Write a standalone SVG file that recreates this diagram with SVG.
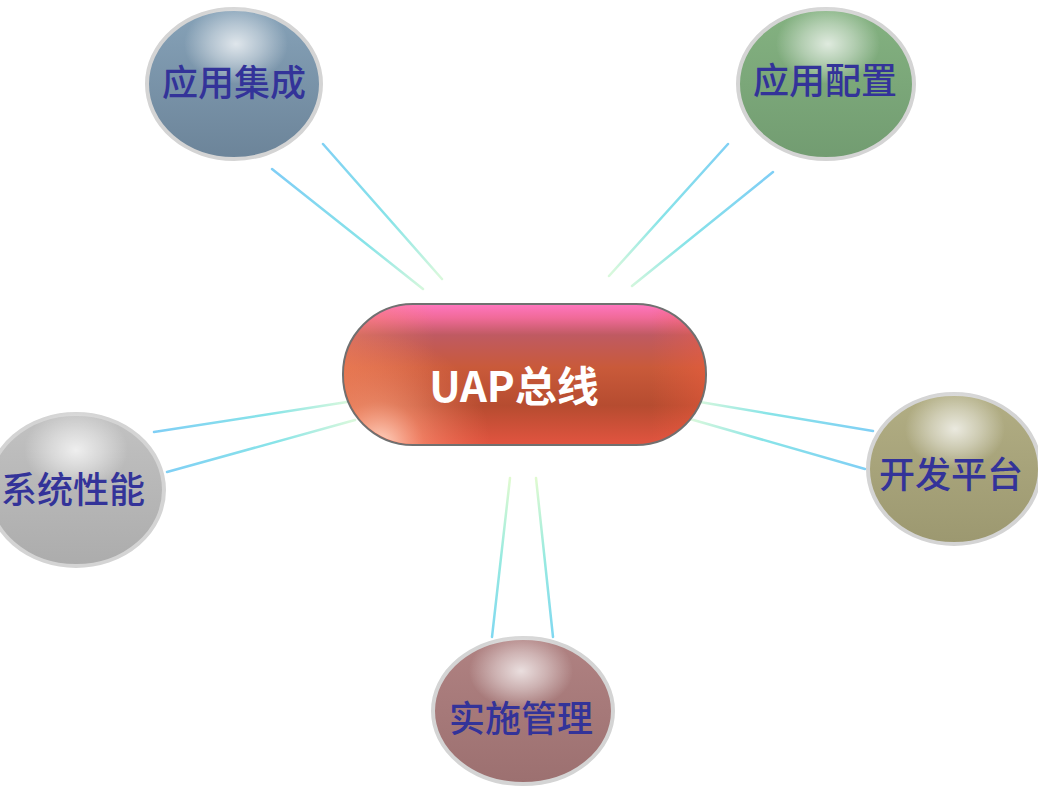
<svg xmlns="http://www.w3.org/2000/svg" width="1038" height="787" viewBox="0 0 1038 787">
<style>
.lbl{font-family:"Liberation Serif","Noto Sans CJK SC",serif;font-size:36px;font-weight:500;fill:#333399;text-anchor:middle;dominant-baseline:central}
.ball{stroke:#d4d4d4;stroke-width:4}
.con{fill:none;stroke-width:2.5;stroke-linecap:round}
.hl{fill:url(#hl)}
</style>
<defs>
<radialGradient id="hl" cx="0.5" cy="0.5" r="0.5">
<stop offset="0" stop-color="#ffffff" stop-opacity="0.75"/>
<stop offset="0.5" stop-color="#ffffff" stop-opacity="0.4"/>
<stop offset="1" stop-color="#ffffff" stop-opacity="0"/>
</radialGradient>
<linearGradient id="gBlue" x1="0" y1="0" x2="0" y2="1"><stop offset="0" stop-color="#86a2b8"/><stop offset="1" stop-color="#6c8499"/></linearGradient>
<linearGradient id="gGreen" x1="0" y1="0" x2="0" y2="1"><stop offset="0" stop-color="#84b281"/><stop offset="1" stop-color="#729c71"/></linearGradient>
<linearGradient id="gGray" x1="0" y1="0" x2="0" y2="1"><stop offset="0" stop-color="#c2c2c2"/><stop offset="1" stop-color="#acacac"/></linearGradient>
<linearGradient id="gOlive" x1="0" y1="0" x2="0" y2="1"><stop offset="0" stop-color="#b2ae84"/><stop offset="1" stop-color="#9c9870"/></linearGradient>
<linearGradient id="gMauve" x1="0" y1="0" x2="0" y2="1"><stop offset="0" stop-color="#b08282"/><stop offset="1" stop-color="#9c7070"/></linearGradient>
<linearGradient id="pillV" x1="0" y1="0" x2="0" y2="1">
<stop offset="0" stop-color="#ff76c0"/>
<stop offset="0.1" stop-color="#f06a98"/>
<stop offset="0.22" stop-color="#bf5a62"/>
<stop offset="0.45" stop-color="#c95a3a"/>
<stop offset="0.72" stop-color="#b64c30"/>
<stop offset="1" stop-color="#e25440"/>
</linearGradient>
<linearGradient id="pillH" x1="0" y1="0" x2="1" y2="0">
<stop offset="0" stop-color="#ff9060" stop-opacity="0.45"/>
<stop offset="0.25" stop-color="#ff9060" stop-opacity="0"/>
<stop offset="0.85" stop-color="#ff6040" stop-opacity="0"/>
<stop offset="1" stop-color="#ff6040" stop-opacity="0.35"/>
</linearGradient>
<radialGradient id="pillGlow" cx="380" cy="445" r="110" gradientUnits="userSpaceOnUse">
<stop offset="0" stop-color="#ffe0d0" stop-opacity="0.95"/>
<stop offset="0.4" stop-color="#ffa080" stop-opacity="0.5"/>
<stop offset="1" stop-color="#ff8060" stop-opacity="0"/>
</radialGradient>
<linearGradient id="c1" gradientUnits="userSpaceOnUse" x1="297" y1="156" x2="432" y2="284"><stop offset="0" stop-color="#80cff5"/><stop offset="0.6" stop-color="#88e4e8"/><stop offset="1" stop-color="#d8f8dc"/></linearGradient>
<linearGradient id="c2" gradientUnits="userSpaceOnUse" x1="750" y1="158" x2="620" y2="281"><stop offset="0" stop-color="#80cff5"/><stop offset="0.6" stop-color="#88e4e8"/><stop offset="1" stop-color="#d8f8dc"/></linearGradient>
<linearGradient id="c3" gradientUnits="userSpaceOnUse" x1="160" y1="452" x2="350" y2="411"><stop offset="0" stop-color="#80cff5"/><stop offset="0.6" stop-color="#88e4e8"/><stop offset="1" stop-color="#d8f8dc"/></linearGradient>
<linearGradient id="c4" gradientUnits="userSpaceOnUse" x1="870" y1="450" x2="695" y2="410"><stop offset="0" stop-color="#80cff5"/><stop offset="0.6" stop-color="#88e4e8"/><stop offset="1" stop-color="#d8f8dc"/></linearGradient>
<linearGradient id="c5" gradientUnits="userSpaceOnUse" x1="522" y1="637" x2="522" y2="478"><stop offset="0" stop-color="#80d8f0"/><stop offset="0.5" stop-color="#98eae0"/><stop offset="1" stop-color="#e0fad0"/></linearGradient>
</defs>
<g id="connectors">
<path class="con" stroke="url(#c1)" d="M272,169 L423,289"/>
<path class="con" stroke="url(#c1)" d="M323,144 L442,279"/>
<path class="con" stroke="url(#c2)" d="M728,144 L609,276"/>
<path class="con" stroke="url(#c2)" d="M773,172 L632,286"/>
<path class="con" stroke="url(#c3)" d="M154,432 L347,402"/>
<path class="con" stroke="url(#c3)" d="M167,472 L355,420"/>
<path class="con" stroke="url(#c4)" d="M700,402 L873,431"/>
<path class="con" stroke="url(#c4)" d="M690,419 L865,469"/>
<path class="con" stroke="url(#c5)" d="M510,478 L492,637"/>
<path class="con" stroke="url(#c5)" d="M536,478 L553,637"/>
</g>
<g id="center">
<rect x="343" y="304" width="363" height="141" rx="70" ry="70" fill="url(#pillV)" stroke="#707070" stroke-width="2"/>
<rect x="344" y="305" width="361" height="139" rx="69" ry="69" fill="url(#pillH)"/>
<rect x="344" y="305" width="361" height="139" rx="69" ry="69" fill="url(#pillGlow)"/>
<text x="514" y="383" font-family="'Noto Sans CJK SC','DejaVu Sans',sans-serif" font-size="42" font-weight="bold" fill="#ffffff" text-anchor="middle" dominant-baseline="central">UAP总线</text>
</g>
<g id="node-yyjc">
<ellipse class="ball" cx="234" cy="84" rx="87" ry="75" fill="url(#gBlue)"/>
<ellipse class="hl" cx="236" cy="44" rx="52" ry="40"/>
<text class="lbl" x="234" y="84">应用集成</text>
</g>
<g id="node-yypz">
<ellipse class="ball" cx="826" cy="84" rx="88" ry="75" fill="url(#gGreen)"/>
<ellipse class="hl" cx="828" cy="44" rx="52" ry="40"/>
<text class="lbl" x="825" y="82">应用配置</text>
</g>
<g id="node-xtxn">
<ellipse class="ball" cx="76" cy="490" rx="88" ry="76" fill="url(#gGray)"/>
<ellipse class="hl" cx="76" cy="450" rx="52" ry="40"/>
<text class="lbl" x="73" y="491">系统性能</text>
</g>
<g id="node-kfpt">
<ellipse class="ball" cx="954" cy="469" rx="86" ry="75" fill="url(#gOlive)"/>
<ellipse class="hl" cx="955" cy="429" rx="50" ry="40"/>
<text class="lbl" x="951" y="476">开发平台</text>
</g>
<g id="node-ssgl">
<ellipse class="ball" cx="523" cy="711" rx="90" ry="73" fill="url(#gMauve)"/>
<ellipse class="hl" cx="521" cy="671" rx="52" ry="38"/>
<text class="lbl" x="521" y="720">实施管理</text>
</g>
</svg>
